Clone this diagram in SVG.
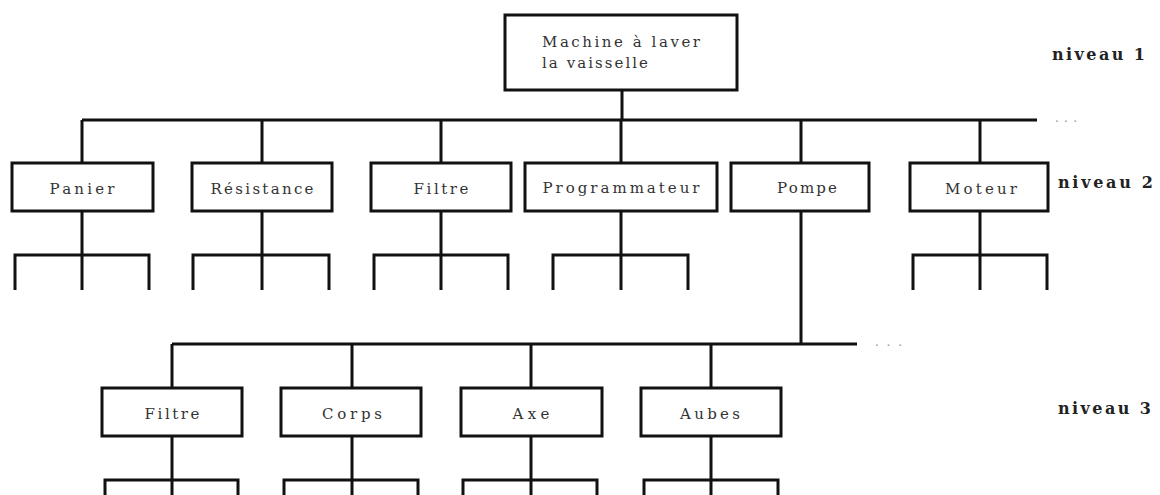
<svg xmlns="http://www.w3.org/2000/svg" width="1160" height="495" viewBox="0 0 1160 495">
<style>
.box{fill:#fff;stroke:#111;stroke-width:3}
.ln{fill:none;stroke:#111;stroke-width:3}
.t{font-family:"DejaVu Serif",serif;font-size:15px;fill:#333;text-anchor:middle}
.tl{font-family:"DejaVu Serif",serif;font-size:15px;fill:#333}
.lv{font-family:"DejaVu Serif",serif;font-size:16px;font-weight:bold;fill:#222}
.dots{font-family:"DejaVu Serif",serif;font-size:12px;fill:#999}
</style>
<rect width="1160" height="495" fill="#fff"/>
<g id="connectors">
<path class="ln" d="M622 90V120M82 120H1037M82 120V163M262 120V163M441 120V163M621 120V163M801 120V163M980 120V163"/>
<path class="ln" d="M82 211V290M15 290V255H149V290M262 211V290M193 290V255H329V290M441 211V290M374 290V255H508V290M621 211V290M553 290V255H688V290M980 211V290M913 290V255H1047V290"/>
<path class="ln" d="M801 211V344M172 344H857M172 344V388M352 344V388M531 344V388M711 344V388"/>
<path class="ln" d="M172 436V497M105 497V480H238V497M352 436V497M284 497V480H418V497M531 436V497M463 497V480H597V497M711 436V497M644 497V480H778V497"/>
</g>
<g id="n-machine"><rect class="box" x="505" y="15" width="232" height="75"/><text class="tl" x="542" y="47" textLength="158">Machine à laver</text><text class="tl" x="542" y="68" textLength="106">la vaisselle</text></g>
<g id="n-panier"><rect class="box" x="12" y="163" width="141" height="48"/><text class="t" x="82" y="194" textLength="65">Panier</text></g>
<g id="n-resistance"><rect class="box" x="192" y="163" width="140" height="48"/><text class="t" x="262" y="194" textLength="103">Résistance</text></g>
<g id="n-filtre2"><rect class="box" x="371" y="163" width="140" height="48"/><text class="t" x="441" y="194" textLength="55">Filtre</text></g>
<g id="n-programmateur"><rect class="box" x="525" y="163" width="192" height="48"/><text class="t" x="621" y="193" textLength="157">Programmateur</text></g>
<g id="n-pompe"><rect class="box" x="731" y="163" width="138" height="48"/><text class="t" x="807" y="193" textLength="60">Pompe</text></g>
<g id="n-moteur"><rect class="box" x="910" y="163" width="138" height="48"/><text class="t" x="981" y="194" textLength="72">Moteur</text></g>
<g id="n-filtre3"><rect class="box" x="102" y="388" width="140" height="48"/><text class="t" x="172" y="419" textLength="55">Filtre</text></g>
<g id="n-corps"><rect class="box" x="281" y="388" width="140" height="48"/><text class="t" x="352" y="419" textLength="60">Corps</text></g>
<g id="n-axe"><rect class="box" x="461" y="388" width="141" height="48"/><text class="t" x="531" y="419" textLength="37">Axe</text></g>
<g id="n-aubes"><rect class="box" x="641" y="388" width="140" height="48"/><text class="t" x="710" y="419" textLength="60">Aubes</text></g>
<g id="labels">
<text class="dots" x="1055" y="122" textLength="22">. . .</text>
<text class="dots" x="875" y="346" textLength="27">. . .</text>
<text class="lv" x="1052" y="60" textLength="93">niveau 1</text>
<text class="lv" x="1058" y="188" textLength="95">niveau 2</text>
<text class="lv" x="1058" y="414" textLength="93">niveau 3</text>
</g>
</svg>
